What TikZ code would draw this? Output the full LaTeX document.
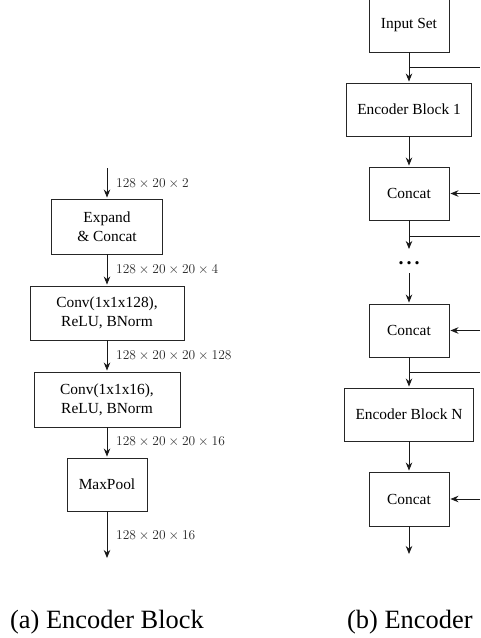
\documentclass[tikz,border=0pt]{standalone}
\usepackage{fontspec}
\setmainfont{Liberation Serif}
\usetikzlibrary{arrows.meta}
\tikzset{
  x=1pt,y=-1pt,
  blk/.style={draw=black!85,line width=0.9pt,rectangle,inner sep=0pt,align=center,font=\fontsize{15.4}{18.8}\selectfont},
  conn/.style={draw=black!90,line width=0.9pt,-{Stealth[length=8pt,width=6.5pt]},shorten >=1pt},
  plainline/.style={draw=black!90,line width=0.9pt},
  dimlabel/.style={anchor=west,inner sep=0pt,scale=0.935,text=black!85,font=\fontsize{14.6}{17}\selectfont},
  captext/.style={anchor=base west,inner sep=0pt,font=\fontsize{26.4}{30}\selectfont},
  dotstext/.style={anchor=base,inner sep=0pt,font=\fontsize{20}{22}\selectfont\bfseries}
}
\begin{document}
\begin{tikzpicture}
\useasboundingbox (0,0) rectangle (480,638);
% (a) Encoder Block
\coordinate (ain) at (107,168);
\node[blk,minimum width=111pt,minimum height=55pt] (expand) at (107,226.5) {Expand\\\& Concat};
\node[blk,minimum width=154pt,minimum height=54pt] (conva) at (107,313) {Conv(1x1x128),\\ReLU, BNorm};
\node[blk,minimum width=146pt,minimum height=55pt] (convb) at (107,399.5) {Conv(1x1x16),\\ReLU, BNorm};
\node[blk,minimum width=80pt,minimum height=53pt] (maxpool) at (107,484.5) {MaxPool};
\coordinate (aout) at (107,559);
\draw[conn] (ain) -- (expand);
\draw[conn] (expand) -- (conva);
\draw[conn] (conva) -- (convb);
\draw[conn] (convb) -- (maxpool);
\draw[conn] (maxpool) -- (aout);
\node[dimlabel] (la) at (116,184) {$128\times20\times2$};
\node[dimlabel] (lb) at (116,270) {$128\times20\times20\times4$};
\node[dimlabel] (lc) at (116,356) {$128\times20\times20\times128$};
\node[dimlabel] (ld) at (116,442) {$128\times20\times20\times16$};
\node[dimlabel] (le) at (116,536) {$128\times20\times16$};
\node[captext] (capa) at (10,628) {(a) Encoder Block};
% (b) Encoder
\node[blk,minimum width=80pt,minimum height=54pt] (input) at (409,25) {Input Set};
\node[blk,minimum width=125pt,minimum height=53pt] (enca) at (409,109.5) {Encoder Block 1};
\node[blk,minimum width=80pt,minimum height=53pt] (cca) at (409,193.5) {Concat};
\node[dotstext] (dots) at (409,264) {.\kern3pt.\kern3pt.};
\node[blk,minimum width=80pt,minimum height=53pt] (ccb) at (409,330.5) {Concat};
\node[blk,minimum width=129pt,minimum height=53pt] (encn) at (409,414.5) {Encoder Block N};
\node[blk,minimum width=80pt,minimum height=54pt] (ccc) at (409,499) {Concat};
\coordinate (bout) at (409,555);
\coordinate (dotsin) at (409,250);
\coordinate (dotsout) at (409,273);
\coordinate (ba) at (409,67);   \coordinate (bae) at (480,67);
\coordinate (bb) at (409,236);  \coordinate (bbe) at (480,236);
\coordinate (bc) at (409,372);  \coordinate (bce) at (480,372);
\coordinate (sa) at (480,193.5);
\coordinate (sb) at (480,330.5);
\coordinate (sc) at (480,499);
\draw[conn] (input) -- (enca);
\draw[conn] (enca) -- (cca);
\draw[conn] (cca) -- (dotsin);
\draw[conn] (dotsout) -- (ccb);
\draw[conn] (ccb) -- (encn);
\draw[conn] (encn) -- (ccc);
\draw[conn] (ccc) -- (bout);
\draw[plainline] (ba) -- (bae);
\draw[plainline] (bb) -- (bbe);
\draw[plainline] (bc) -- (bce);
\draw[conn] (sa) -- (cca);
\draw[conn] (sb) -- (ccb);
\draw[conn] (sc) -- (ccc);
\node[captext] (capb) at (347,628) {(b) Encoder};
\end{tikzpicture}
\end{document}
